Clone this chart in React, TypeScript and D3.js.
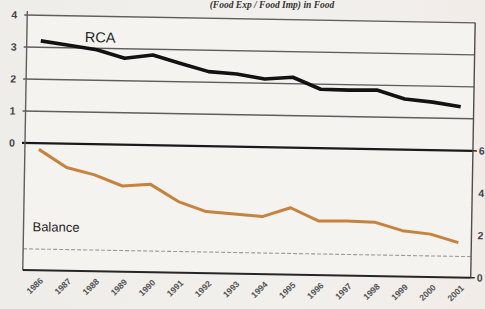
import React from "react";
import * as d3 from "d3";

const years = ["1986","1987","1988","1989","1990","1991","1992","1993","1994","1995","1996","1997","1998","1999","2000","2001"];
const rcaValues = [3.2, 3.08, 2.95, 2.7, 2.82, 2.57, 2.33, 2.27, 2.13, 2.2, 1.84, 1.83, 1.85, 1.58, 1.5, 1.37];
const balanceValues = [5.71, 4.88, 4.55, 4.05, 4.15, 3.36, 2.91, 2.82, 2.72, 3.16, 2.56, 2.58, 2.55, 2.17, 2.03, 1.65];
const leftTicks = [0, 1, 2, 3, 4];
const rightTicks = [0, 2, 4, 6];
const refValue = 1;
const titleText = "(Food Exp / Food Imp) in Food";

const W = 485, H = 309;
const L = 25, R = 473;
const topY0 = 143, topY4 = 15;
const botTop = 143, botBottom = 270;

export default function App() {
  const x = d3.scalePoint<string>().domain(years).range([39, 460]);
  const yTop = d3.scaleLinear().domain([0, 4]).range([topY0, topY4]);
  const yBot = d3.scaleLinear().domain([0, 6]).range([botBottom, botTop]);
  const lineTop = d3.line<number>().x((_, i) => x(years[i])!).y(d => yTop(d)).curve(d3.curveLinear);
  const lineBot = d3.line<number>().x((_, i) => x(years[i])!).y(d => yBot(d)).curve(d3.curveLinear);
  const axisFont = "Arial, 'Liberation Sans', sans-serif";

  return (
    <svg width={W} height={H} style={{ position: "absolute", left: 0, top: 0, background: "#efeeeb" }}>
      <defs>
        <linearGradient id="bg" x1="0" y1="0" x2="1" y2="0">
          <stop offset="0" stopColor="#eeedea" />
          <stop offset="0.6" stopColor="#f1f0ed" />
          <stop offset="1" stopColor="#f2ece8" />
        </linearGradient>
      </defs>
      <rect x={0} y={0} width={W} height={H} fill="url(#bg)" />
      <text x={272} y={8} textAnchor="middle" fontFamily="'Liberation Serif', serif" fontStyle="italic" fontWeight="bold" fontSize={9.5} fill="#333">{titleText}</text>
      <g transform={`rotate(1, ${L}, ${topY0})`}>
        <rect x={L} y={topY4} width={R - L} height={botBottom - topY4} fill="#f4f3f0" />
        {leftTicks.map(t => (
          <line key={"g" + t} x1={L - 3} x2={R} y1={yTop(t)} y2={yTop(t)} stroke={t === 0 ? "#1a1a1a" : "#5e5e5e"} strokeWidth={t === 0 ? 2.2 : 1.4} />
        ))}
        {leftTicks.map(t => (
          <text key={"l" + t} x={12} y={yTop(t)} dy="0.35em" textAnchor="middle" fontFamily={axisFont} fontWeight="bold" fontSize={10.5} fill="#444">{t}</text>
        ))}
        <line x1={L} x2={R} y1={yBot(refValue)} y2={yBot(refValue)} stroke="#9a9a9a" strokeWidth={1.1} strokeDasharray="4,2" />
        <line x1={L} x2={L} y1={topY4 - 4} y2={botBottom} stroke="#5e5e5e" strokeWidth={1.4} />
        <line x1={R} x2={R} y1={topY4} y2={botBottom} stroke="#4e4e4e" strokeWidth={1.4} />
        <line x1={L} x2={R} y1={botBottom} y2={botBottom} stroke="#262626" strokeWidth={2} />
        <line x1={R} x2={R + 4} y1={yBot(6)} y2={yBot(6)} stroke="#2a2a2a" strokeWidth={1.5} />
        <line x1={R} x2={R + 4} y1={yBot(0)} y2={yBot(0)} stroke="#2a2a2a" strokeWidth={1.5} />
        {rightTicks.map(t => (
          <text key={"r" + t} x={479} y={yBot(t)} dy="0.35em" textAnchor="start" fontFamily={axisFont} fontWeight="bold" fontSize={10.5} fill="#444">{t}</text>
        ))}
        <path d={lineTop(rcaValues)!} fill="none" stroke="#121212" strokeWidth={3.6} strokeLinejoin="round" />
        <path d={lineBot(balanceValues)!} fill="none" stroke="#c7823d" strokeWidth={3} strokeLinejoin="round" />
        <text x={83} y={41} fontFamily={axisFont} fontSize={14.5} fill="#262626">RCA</text>
        <text x={34} y={231} fontFamily={axisFont} fontSize={13} fill="#262626">Balance</text>
        {years.map(yv => (
          <text key={yv} transform={`translate(${x(yv)! + 7}, 281) rotate(-45)`} textAnchor="end" fontFamily={axisFont} fontWeight="bold" fontSize={8.5} fill="#555">{yv}</text>
        ))}
      </g>
    </svg>
  );
}
